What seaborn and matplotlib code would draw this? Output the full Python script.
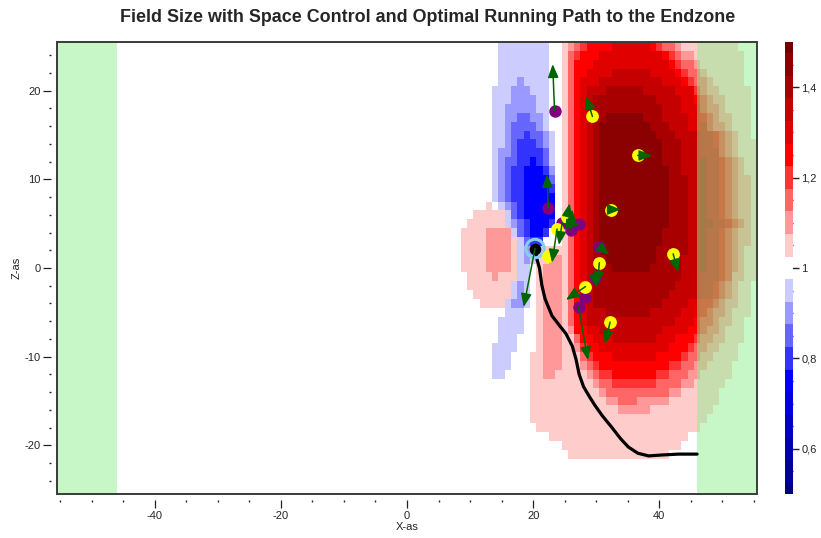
import numpy as np
import pandas as pd
import matplotlib
matplotlib.use("Agg")
import matplotlib.pyplot as plt
from matplotlib.colors import ListedColormap, BoundaryNorm
from matplotlib.cm import ScalarMappable
from matplotlib.patches import Rectangle
from matplotlib.ticker import FixedLocator, MultipleLocator
import seaborn as sns

# ---------------------------------------------------------------------------
# Space-control ratio on a 1 x 1 grid. Each row (keyed by its y centre) is a
# list of runs "x0-x1:code"; later runs overwrite earlier ones in the row.
# ---------------------------------------------------------------------------
LEVEL_CODES = {"e": 0.75, "d": 0.80, "c": 0.85, "b": 0.90, "a": 0.95,
               "1": 1.05, "2": 1.10, "3": 1.15, "4": 1.20, "5": 1.25,
               "6": 1.30, "7": 1.35, "8": 1.40, "9": 1.45}

FIELD_ROWS = {
    25: "15-22:a 25-52:1 26-43:2 27-42:3 28-40:4 29-39:5 33-38:6",
    24: "15-22:a 25-53:1 26-45:2 26-43:3 27-42:4 28-41:5 31-40:6",
    23: "15-22:a 25-53:1 26-46:2 26-45:3 27-43:4 27-42:5 30-41:6",
    22: "15-22:a 25-53:1 26-47:2 26-46:3 27-44:4 27-43:5 29-42:6 33-38:7",
    21: "15-22:a 18:b 25-53:1 26-48:2 26-47:3 27-45:4 27-44:5 28-43:6 31-40:7",
    20: "14-22:a 17-19:b 25-54:1 26-49:2 26-47:3 27-46:4 27-45:5 28-45:6 29-42:7 32-37:8",
    19: "14-22:a 17-20:b 25-54:1 26-50:2 26-48:3 27-47:4 27-46:5 28-45:6 29-43:7 30-39:8",
    18: "14-22:a 16-20:b 25-54:1 26-50:2 26-49:3 27-47:4 27-46:5 28-46:6 29-43:7 30-40:8",
    17: "14-22:a 16-21:b 18-19:c 25-54:1 26-51:2 26-49:3 27-48:4 27-47:5 28-46:6 29-44:7 30-40:8 32-37:9",
    16: "14-22:a 16-21:b 17-20:c 25-54:1 26-51:2 26-50:3 27-48:4 27-47:5 28-47:6 29-44:7 30-41:8 31-38:9",
    15: "14-23:a 16-22:b 17-21:c 19:d 25-54:1 26-52:2 26-51:3 27-50:4 27-49:5 28-48:6 29-46:7 30-42:8 31-39:9",
    14: "14-23:a 16-22:b 17-21:c 18-20:d 25-55:1 26-52:2 26-51:3 27-50:4 27-49:5 28-48:6 29-46:7 30-43:8 31-40:9",
    13: "14-23:a 15-22:b 17-22:c 18-21:d 25-55:1 26-52:2 26-51:3 27-50:4 27-49:5 28-49:6 29-46:7 30-43:8 31-40:9",
    12: "14-23:a 15-22:b 16-22:c 18-21:d 20:e 25-55:1 26-53:2 26-52:3 27-51:4 27-50:5 28-49:6 29-47:7 30-43:8 31-40:9",
    11: "14-23:a 15-23:b 16-22:c 17-22:d 19-21:e 25-55:1 26-53:2 26-52:3 27-51:4 27-50:5 28-49:6 29-47:7 30-43:8 31-41:9",
    10: "14-23:a 15-23:b 16-23:c 17-22:d 19-22:e 25-55:1 26-54:2 26-52:3 27-51:4 27-50:5 28-49:6 29-47:7 30-44:8 31-41:9",
    9: "14-23:a 15-23:b 16-23:c 17-23:d 19-22:e 25-55:1 26-54:2 26-52:3 27-51:4 27-50:5 28-49:6 29-47:7 30-44:8 31-41:9",
    8: "14-23:a 15-23:b 16-23:c 17-23:d 19-23:e 25-55:1 26-54:2 26-52:3 27-51:4 27-50:5 28-49:6 29-47:7 30-44:8 31-41:9",
    7: "13:1 15-23:a 16-23:b 17-23:c 18-23:d 19-23:e 25-55:1 26-54:2 26-52:3 27-51:4 27-50:5 28-49:6 29-47:7 30-44:8 31-41:9",
    6: "11-15:1 16-23:a 17-23:c 18-23:d 19-23:e 25-55:1 26-54:2 26-52:3 27-51:4 27-50:5 28-49:6 29-47:7 30-44:8 31-41:9",
    5: "10-15:1 16-23:a 17-23:b 18-23:c 19-23:d 20-22:e 25-55:1 26-54:2 26-53:3 27-52:4 27-51:5 28-50:6 29-48:7 30-44:8 31-41:9",
    4: "9-16:1 13-16:2 17-22:a 18-22:c 19-22:d 20-21:e 25-55:1 26-54:2 26-52:3 27-51:4 27-50:5 28-49:6 29-47:7 30-44:8 31-40:9",
    3: "9-17:1 13-16:2 18-21:a 19-21:c 20-21:d 25-55:1 26-54:2 26-52:3 27-51:4 27-50:5 28-49:6 29-47:7 30-44:8 31-40:9",
    2: "9-17:1 13-16:2 18-21:a 19-20:b 22-24:1 25-55:1 26-53:2 26-52:3 27-51:4 27-50:5 28-49:6 29-47:7 30-44:8 31-39:9",
    1: "9-17:1 13-16:2 18-20:a 19:b 21-24:1 23-24:2 25-55:1 26-53:2 26-52:3 27-51:4 27-50:5 28-49:6 29-47:7 30-43:8 32-39:9",
    0: "9-17:1 13-16:2 18-19:a 21-24:1 22-24:2 25-55:1 26-53:2 26-52:3 27-51:4 27-50:5 28-49:6 29-47:7 30-43:8 33-38:9",
    -1: "10-17:1 14:2 18-19:a 21-24:1 22-24:2 25-55:1 26-53:2 26-51:3 27-51:4 27-50:5 28-49:6 29-46:7 30-43:8",
    -2: "10-16:1 17-19:a 18:b 21-24:1 22-24:2 25-54:1 26-52:2 26-51:3 27-50:4 27-49:5 28-48:6 29-46:7 30-42:8",
    -3: "11-16:1 17-19:a 18:b 21-24:1 22-24:2 25-54:1 26-52:2 26-51:3 27-50:4 27-49:5 28-48:6 29-46:7 30-41:8",
    -4: "12-15:1 16-19:a 17-18:b 21-24:1 22-24:2 25-54:1 26-52:2 26-50:3 27-49:4 27-48:5 28-46:6 29-44:7 30-40:8",
    -5: "16-18:a 21-24:1 22-24:2 25-54:1 26-51:2 26-50:3 27-48:4 27-47:5 28-46:6 29-43:7 32-38:8",
    -6: "15-18:a 21-24:1 22-24:2 25-53:1 26-51:2 26-49:3 27-48:4 27-46:5 28-45:6 29-42:7",
    -7: "15-18:a 21-24:1 22-24:2 25-53:1 26-50:2 27-49:3 27-47:4 27-46:5 29-44:6 31-40:7",
    -8: "15-17:a 21-25:1 22-24:2 26-53:1 27-50:2 27-48:3 28-46:4 28-45:5 30-42:6 33-39:7",
    -9: "14-17:a 21-25:1 22-24:2 26-52:1 27-49:2 28-47:3 28-45:4 29-44:5 31-41:6",
    -10: "14-16:a 20-25:1 22-24:2 26-52:1 28-48:2 28-46:3 29-44:4 30-43:5 33-39:6",
    -11: "14-16:a 20-26:1 22-24:2 27-51:1 28-47:2 29-45:3 30-43:4 31-41:5",
    -12: "14-15:a 20-26:1 22-23:2 27-51:1 29-46:2 30-44:3 31-41:4 33-39:5",
    -13: "20-50:1 30-45:2 31-43:3 33-39:4",
    -14: "20-49:1 31-43:2 32-41:3",
    -15: "20-49:1 32-41:2 34-36:3",
    -16: "20-48:1 34-38:2",
    -17: "20-47:1",
    -18: "21-46:1",
    -19: "23-44:1",
    -20: "25-43:1",
    -21: "26-41:1",
}

# colour for every 0.05 step of the ratio, 0.50 ... 1.50
LEVELS = [0.50, 0.55, 0.60, 0.65, 0.70, 0.75, 0.80, 0.85, 0.90, 0.95, 1.00,
          1.05, 1.10, 1.15, 1.20, 1.25, 1.30, 1.35, 1.40, 1.45, 1.50]
LEVEL_COLORS = ["#000080", "#000099", "#0000b3", "#0000cc", "#0000e6", "#0000ff",
                "#3333ff", "#6666ff", "#9999ff", "#ccccff", "#ffffff",
                "#ffcccc", "#ff9999", "#ff6666", "#ff3333", "#ff0000",
                "#e00000", "#c40000", "#a80000", "#8b0000", "#700000"]

# players: yellow team, purple team, ball carrier
YELLOW_X = [29.4, 36.6, 32.3, 25.4, 23.8, 22.4, 30.5, 28.3, 32.2, 42.2]
YELLOW_Y = [17.1, 12.7, 6.6, 5.8, 4.4, 1.4, 0.6, -2.1, -6.1, 1.6]
PURPLE_X = [23.4, 22.4, 24.6, 26.0, 27.2, 30.5, 29.8, 28.3, 27.2]
PURPLE_Y = [17.7, 6.8, 5.1, 4.3, 5.0, 2.4, -1.1, -3.3, -4.4]
CARRIER_X = [20.3]
CARRIER_Y = [2.2]

# velocity arrows: start and tip
ARROW_X0 = [29.4, 36.6, 32.3, 25.4, 26.0, 25.0, 23.8, 24.6, 22.4, 23.4, 20.3, 30.5, 30.5, 29.8, 28.3, 27.2, 32.2, 42.2]
ARROW_Y0 = [17.1, 12.7, 6.6, 5.8, 4.3, 5.0, 4.4, 5.1, 6.8, 17.7, 2.2, 2.4, 0.6, -1.1, -2.1, -4.4, -6.1, 1.6]
ARROW_X1 = [28.4, 38.9, 33.9, 25.8, 26.2, 27.4, 23.0, 24.1, 22.2, 23.1, 18.5, 32.1, 30.2, 30.1, 25.2, 28.7, 31.4, 43.0]
ARROW_Y1 = [19.4, 12.7, 6.6, 7.3, 6.6, 4.9, 0.6, 2.6, 10.6, 23.0, -4.4, 1.5, -1.9, -2.2, -3.6, -10.4, -8.6, -0.5]

# optimal running path of the ball carrier
PATH_X = [20.4, 20.6, 21.0, 21.4, 21.9, 23.0, 24.3, 25.2, 26.2, 26.8, 27.3, 28.0, 29.0, 29.8,
          31.0, 32.5, 33.8, 35.1, 36.6, 38.3, 40.4, 43.0, 46.0]
PATH_Y = [2.2, 1.0, 0.0, -2.0, -3.5, -5.4, -6.6, -7.4, -8.8, -10.3, -12.0, -13.4, -14.6, -15.5,
          -16.7, -18.0, -19.2, -20.2, -20.9, -21.2, -21.1, -21.0, -21.0]

TITLE = "Field Size with Space Control and Optimal Running Path to the Endzone"
CBAR_TICKS = [0.6, 0.8, 1.0, 1.2, 1.4]
CBAR_LABELS = ["0,6", "0,8", "1", "1,2", "1,4"]
CBAR_MINOR = [0.55, 0.65, 0.70, 0.75, 0.85, 0.90, 0.95, 1.05, 1.10, 1.15, 1.25, 1.30, 1.35, 1.45]


def parse_rows(rows):
    recs = []
    for y, row in rows.items():
        cells = {}
        for tok in row.split():
            span, code = tok.split(":")
            lo, _, hi = span.partition("-")
            hi = hi or lo
            for x in range(int(lo), int(hi) + 1):
                cells[x] = LEVEL_CODES[code]
        recs.extend((x, y, v) for x, v in cells.items())
    return pd.DataFrame(recs, columns=["x", "y", "ratio"])


sns.set_theme(style="white")
plt.rcParams["font.family"] = ["Liberation Sans", "DejaVu Sans"]
plt.rcParams["axes.unicode_minus"] = False

fig = plt.figure(figsize=(8.21, 5.38), dpi=100)
ax = fig.add_axes([57 / 821, 44 / 538, 700 / 821, 452 / 538])
cax = fig.add_axes([785 / 821, 44 / 538, 8 / 821, 452 / 538])

cmap = ListedColormap(LEVEL_COLORS)
field = parse_rows(FIELD_ROWS)
x_edges = np.arange(-55.5, 56.0, 1.0)
y_edges = np.arange(-25.5, 26.0, 1.0)
sns.histplot(data=field, x="x", y="y", weights="ratio", bins=(x_edges, y_edges),
             cmap=cmap, vmin=LEVELS[0] - 0.025, vmax=LEVELS[-1] + 0.025,
             ax=ax, zorder=1)

# end zones
for lo, hi in [(-55.5, -46.0), (46.0, 55.5)]:
    ax.axvspan(lo, hi, color="lightgreen", alpha=0.5, lw=0, zorder=2)

sns.lineplot(x=PATH_X, y=PATH_Y, sort=False, estimator=None, color="black",
             linewidth=2.3, ax=ax, zorder=3)

ax.scatter(CARRIER_X, CARRIER_Y, s=175, facecolors="none", edgecolors="#87ceeb",
           linewidths=2.2, zorder=4)
sns.scatterplot(x=PURPLE_X, y=PURPLE_Y, color="#800080", s=80, linewidth=0, ax=ax, zorder=4)
sns.scatterplot(x=YELLOW_X, y=YELLOW_Y, color="#ffff00", s=85, linewidth=0, ax=ax, zorder=4)
sns.scatterplot(x=CARRIER_X, y=CARRIER_Y, color="black", s=70, linewidth=0, ax=ax, zorder=4)

for x0, y0, x1, y1 in zip(ARROW_X0, ARROW_Y0, ARROW_X1, ARROW_Y1):
    ax.annotate("", xy=(x1, y1), xytext=(x0, y0), zorder=5,
                arrowprops=dict(arrowstyle="-|>,head_length=1.0,head_width=0.4",
                                color="#006400", lw=1.1, shrinkA=0, shrinkB=0,
                                mutation_scale=8))

ax.set_xlim(-55.5, 55.5)
ax.set_ylim(-25.5, 25.5)
ax.set_xticks([-40, -20, 0, 20, 40])
ax.set_yticks([-20, -10, 0, 10, 20])
ax.xaxis.set_minor_locator(MultipleLocator(5))
ax.yaxis.set_minor_locator(MultipleLocator(2))
for side in ["bottom", "left"]:
    ax.spines[side].set_position(("outward", 4))
    ax.spines[side].set_color("none")
for side in ["top", "right"]:
    ax.spines[side].set_visible(False)
ax.add_patch(Rectangle((0, 0), 1, 1, transform=ax.transAxes, fill=False,
                       edgecolor="#3a3a3a", lw=1.4, zorder=10, clip_on=False))
ax.tick_params(which="major", direction="out", length=6, width=0.9, color="#222222",
               labelsize=8, pad=2, bottom=True, left=True)
ax.tick_params(which="minor", direction="out", length=1.5, width=1.0, color="#222222",
               bottom=True, left=True)
ax.set_xlabel("X-as", fontsize=8, labelpad=1, color="#222222")
ax.set_ylabel("Z-as", fontsize=8, labelpad=2, color="#222222")

fig.text(428 / 821, 1 - 17 / 538, TITLE, ha="center", va="center",
         fontsize=12.9, fontweight="bold")

bounds = [LEVELS[0]] + [(a + b) / 2 for a, b in zip(LEVELS[:-1], LEVELS[1:])] + [LEVELS[-1]]
sm = ScalarMappable(norm=BoundaryNorm(bounds, len(LEVEL_COLORS)), cmap=cmap)
cbar = fig.colorbar(sm, cax=cax, spacing="proportional")
cbar.outline.set_visible(False)
cbar.set_ticks(CBAR_TICKS, labels=CBAR_LABELS)
cbar.ax.yaxis.set_minor_locator(FixedLocator(CBAR_MINOR))
cbar.ax.tick_params(which="major", direction="inout", length=8, width=1.0,
                    color="#222222", labelsize=8, pad=2)
cbar.ax.tick_params(which="minor", direction="in", length=5, width=1.0, color="#222222")

fig.savefig("out.png", dpi=100)
